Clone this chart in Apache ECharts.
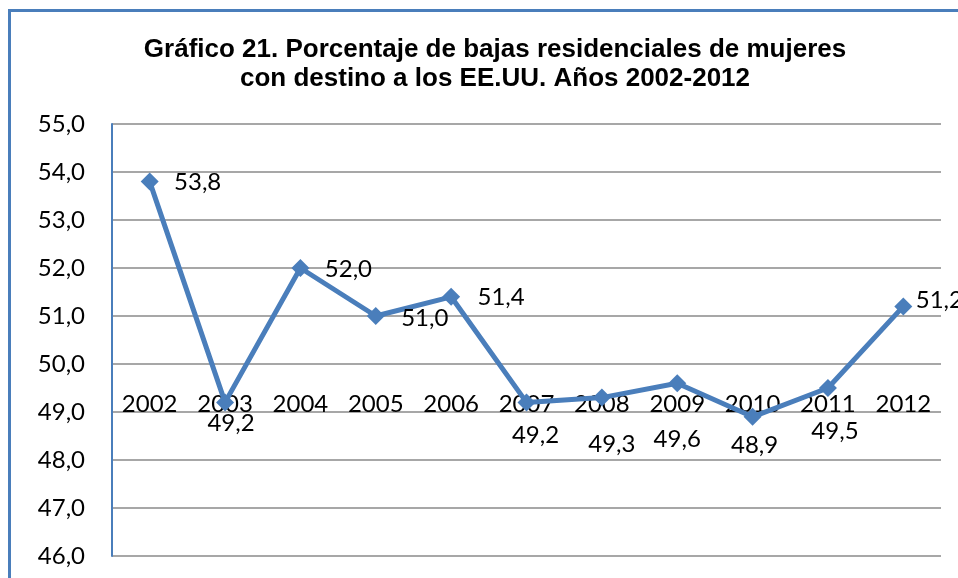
<!DOCTYPE html>
<html>
<head>
<meta charset="utf-8">
<script src="https://cdn.jsdelivr.net/npm/echarts@6/dist/echarts.min.js"></script>
<style>
  html, body { margin: 0; padding: 0; background: #fff; }
  #chart { width: 958px; height: 578px; }
</style>
</head>
<body>
<div id="chart"></div>
<script>
// datos del gráfico
var years = ["2002", "2003", "2004", "2005", "2006", "2007", "2008", "2009", "2010", "2011", "2012"];
var porcentajes = [53.8, 49.2, 52.0, 51.0, 51.4, 49.2, 49.3, 49.6, 48.9, 49.5, 51.2];
var yTicks = [46, 47, 48, 49, 50, 51, 52, 53, 54, 55];

// desplazamiento de cada etiqueta respecto al punto (como en Excel)
var labelOffsets = [[48, 1], [6, 21], [48, 1], [49, 2], [50, 0], [9, 33], [10, 47], [0, 56], [2, 28], [7, 43], [36, -6]];

var azul = "#4a7ebb";
var fuente = "Lato";

var serieData = porcentajes.map(function(v, i) {
    return {
        value: v,
        label: {offset: labelOffsets[i]}
    };
});

var myChart = echarts.init(document.getElementById("chart"));
var option = {
    animation: false,
    backgroundColor: "#fff",
    title: {
        text: "Gráfico 21. Porcentaje de bajas residenciales de mujeres\ncon destino a los EE.UU. Años 2002-2012",
        left: 490,
        top: 30,
        textAlign: "center",
        textStyle: {
            fontFamily: "Liberation Sans",
            fontWeight: "bold",
            fontSize: 26,
            lineHeight: 29,
            color: "#000"
        }
    },
    graphic: [{
        type: "rect",
        shape: {x: 9.5, y: 10.5, width: 1200, height: 1200},
        style: {fill: "none", stroke: azul, lineWidth: 3},
        silent: true
    }],
    grid: {left: 112, top: 124, right: 17, bottom: 22},
    xAxis: {
        type: "category",
        data: years,
        boundaryGap: true,
        offset: -144,
        axisLine: {show: false},
        axisTick: {show: false},
        axisLabel: {
            margin: -20,
            fontFamily: fuente,
            fontSize: 24,
            color: "#000"
        }
    },
    yAxis: {
        type: "value",
        min: yTicks[0],
        max: yTicks[yTicks.length - 1],
        interval: 1,
        axisLine: {show: true, lineStyle: {color: azul, width: 2}},
        axisTick: {show: false},
        splitLine: {lineStyle: {color: "#8a8a8a", width: 1.6}},
        axisLabel: {
            margin: 27,
            fontFamily: fuente,
            fontSize: 24,
            color: "#000",
            formatter: function(v) { return v.toFixed(1).replace(".", ","); }
        }
    },
    series: [{
        type: "line",
        data: serieData,
        symbol: "diamond",
        symbolSize: 18,
        lineStyle: {color: azul, width: 5},
        itemStyle: {color: azul},
        label: {
            show: true,
            position: "inside",
            align: "center",
            verticalAlign: "middle",
            fontFamily: fuente,
            fontSize: 24,
            color: "#000",
            formatter: function(p) { return p.value.toFixed(1).replace(".", ","); }
        },
        z: 3
    }]
};
myChart.setOption(option);
</script>
</body>
</html>
